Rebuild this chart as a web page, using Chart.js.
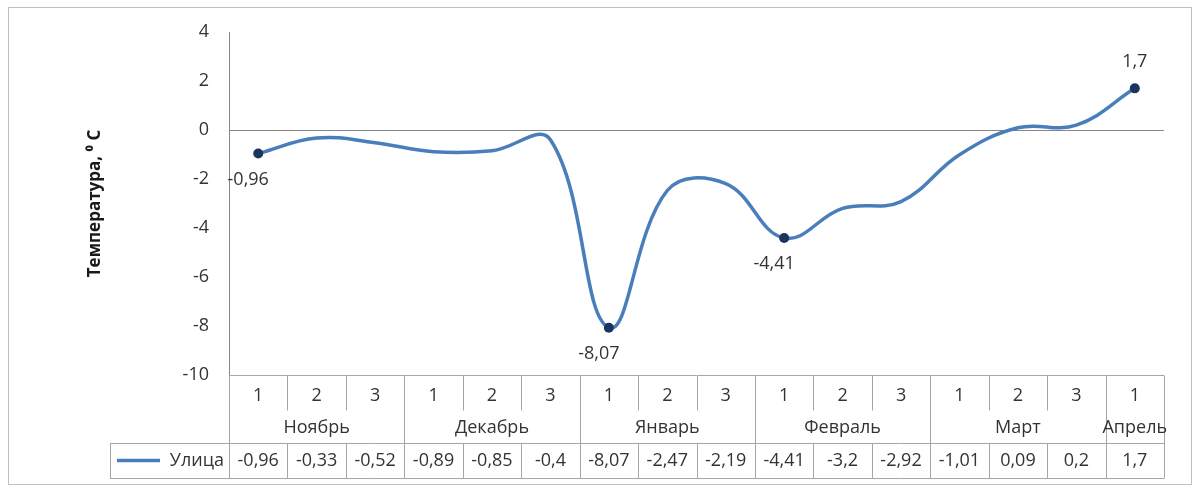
<!DOCTYPE html>
<html>
<head>
<meta charset="utf-8">
<script src="https://cdn.jsdelivr.net/npm/chart.js@4/dist/chart.umd.min.js"></script>
<style>
  html, body { margin: 0; padding: 0; background: #fff; }
  #wrap { width: 1198px; height: 487px; position: relative; }
</style>
</head>
<body>
<div id="wrap"><canvas id="c"></canvas></div>
<script>
// Decade of the month (1, 2, 3) for each reading
const decades = ['1', '2', '3', '1', '2', '3', '1', '2', '3', '1', '2', '3', '1', '2', '3', '1'];
// Months and how many decades each covers
const months = ['Ноябрь', 'Декабрь', 'Январь', 'Февраль', 'Март', 'Апрель'];
const monthSpans = [3, 3, 3, 3, 3, 1];
// Outdoor temperature, °C
const seriesName = 'Улица';
const temperatures = [-0.96, -0.33, -0.52, -0.89, -0.85, -0.4, -8.07, -2.47, -2.19, -4.41, -3.2, -2.92, -1.01, 0.09, 0.2, 1.7];
// Value axis
const yTicks = [-10, -8, -6, -4, -2, 0, 2, 4];
// Readings that get a marker and a value label
const labelled = [0, 6, 9, 15];
const labelPlacement = { 0: 'below', 6: 'below', 9: 'below', 15: 'above' };

const FONT = "'Open Sans', 'DejaVu Sans', sans-serif";
const TEXT = '#333333';
const LINE_BLUE = '#4A7EBB';
const GRID = '#a6a6a6';

Chart.defaults.font.family = FONT;
Chart.defaults.color = TEXT;

const fmt = v => String(v).replace('.', ',');

// Frame around the whole chart
const framePlugin = {
  id: 'frame',
  beforeDraw(chart) {
    const { ctx, width, height } = chart;
    ctx.save();
    ctx.fillStyle = '#fff';
    ctx.fillRect(0, 0, width, height);
    ctx.strokeStyle = '#bfbfbf';
    ctx.lineWidth = 1;
    ctx.strokeRect(8.5, 7.5, width - 15, height - 10);
    ctx.restore();
  }
};

// Value labels next to the marked points
const valueLabelPlugin = {
  id: 'valueLabels',
  afterDatasetsDraw(chart) {
    const { ctx } = chart;
    const meta = chart.getDatasetMeta(0);
    ctx.save();
    ctx.font = `18px ${FONT}`;
    ctx.fillStyle = TEXT;
    ctx.textAlign = 'center';
    ctx.textBaseline = 'middle';
    labelled.forEach(i => {
      const p = meta.data[i];
      if (labelPlacement[i] === 'above') {
        ctx.fillText(fmt(temperatures[i]), p.x, p.y - 26);
      } else {
        ctx.fillText(fmt(temperatures[i]), p.x - 10, p.y + 26);
      }
    });
    ctx.restore();
  }
};

// Month row and data table under the category axis
const tablePlugin = {
  id: 'dataTable',
  afterDraw(chart) {
    const { ctx, chartArea: a, scales: { x } } = chart;
    const step = x.getPixelForValue(1) - x.getPixelForValue(0);
    const top = a.bottom;
    const decBottom = top + 35;
    const monthY = top + 53;
    const tTop = top + 68;
    const tBottom = top + 103;
    const rowY = (tTop + tBottom) / 2;
    const legendLeft = 110;
    const r = v => Math.round(v) + 0.5;

    ctx.save();
    ctx.strokeStyle = GRID;
    ctx.lineWidth = 1;
    const line = (x1, y1, x2, y2) => {
      ctx.beginPath(); ctx.moveTo(x1, y1); ctx.lineTo(x2, y2); ctx.stroke();
    };
    line(a.left, r(top), a.right, r(top));
    line(legendLeft, r(tTop), a.right, r(tTop));
    line(legendLeft, r(tBottom), a.right, r(tBottom));
    line(r(legendLeft), r(tTop), r(legendLeft), r(tBottom));
    line(r(a.left), r(top), r(a.left), r(tBottom));
    line(r(a.right), r(top), r(a.right), r(tBottom));

    const monthEnds = new Set();
    let acc = 0;
    monthSpans.forEach(n => { acc += n; monthEnds.add(acc); });
    for (let i = 1; i < temperatures.length; i++) {
      const bx = r(x.getPixelForValue(i) - step / 2);
      if (monthEnds.has(i)) {
        line(bx, r(top), bx, r(tBottom));
      } else {
        line(bx, r(top), bx, r(decBottom));
        line(bx, r(tTop), bx, r(tBottom));
      }
    }

    ctx.font = `18px ${FONT}`;
    ctx.fillStyle = TEXT;
    ctx.textAlign = 'center';
    ctx.textBaseline = 'middle';
    let start = 0;
    months.forEach((m, k) => {
      const end = start + monthSpans[k] - 1;
      const cx = (x.getPixelForValue(start) + x.getPixelForValue(end)) / 2;
      ctx.fillText(m, cx, monthY);
      start += monthSpans[k];
    });

    temperatures.forEach((v, i) => {
      ctx.fillText(fmt(v), x.getPixelForValue(i), rowY);
    });

    // legend key
    ctx.strokeStyle = LINE_BLUE;
    ctx.lineWidth = 3.5;
    line(117, rowY, 160, rowY);
    ctx.textAlign = 'right';
    ctx.fillText(seriesName, a.left - 5, rowY);
    ctx.restore();
  }
};

new Chart(document.getElementById('c'), {
  type: 'line',
  data: {
    labels: decades,
    datasets: [{
      label: seriesName,
      data: temperatures,
      borderColor: LINE_BLUE,
      borderWidth: 3.5,
      tension: 0.4,
      fill: false,
      pointRadius: temperatures.map((_, i) => labelled.includes(i) ? 5 : 0),
      pointHoverRadius: 0,
      pointBackgroundColor: '#1c355e',
      pointBorderColor: '#1c355e',
      pointBorderWidth: 0
    }]
  },
  options: {
    responsive: true,
    maintainAspectRatio: false,
    animation: false,
    events: [],
    layout: { padding: { left: 0, top: 32, right: 34, bottom: 0 } },
    plugins: {
      legend: { display: false },
      tooltip: { enabled: false }
    },
    scales: {
      x: {
        type: 'category',
        offset: true,
        grid: { display: false, drawTicks: false },
        border: { display: false },
        ticks: { font: { size: 18 }, color: TEXT, padding: 10, maxRotation: 0, autoSkip: false },
        afterFit(scale) { scale.height = 112; }
      },
      y: {
        min: yTicks[0],
        max: yTicks[yTicks.length - 1],
        ticks: { stepSize: 2, font: { size: 18 }, color: TEXT, padding: 20 },
        grid: {
          drawTicks: false,
          color: c => (c.tick && c.tick.value === 0) ? '#868686' : 'rgba(0,0,0,0)',
          lineWidth: 1
        },
        border: { display: true, color: '#868686' },
        title: {
          display: true,
          text: 'Температура, ⁰ C',
          font: { size: 17, weight: 'bold' },
          color: '#1a1a1a',
          padding: { top: 85, bottom: 0 }
        },
        afterFit(scale) { scale.width = 229; }
      }
    }
  },
  plugins: [framePlugin, valueLabelPlugin, tablePlugin]
});
</script>
</body>
</html>
